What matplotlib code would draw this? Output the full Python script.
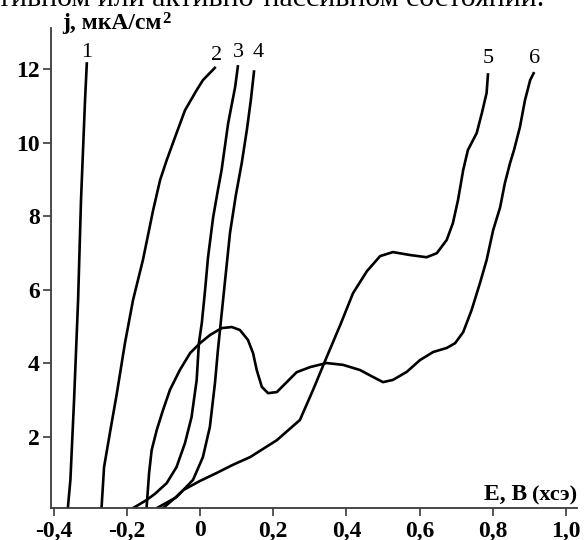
import matplotlib
matplotlib.use("Agg")
import matplotlib.pyplot as plt

# ---- data (E in V vs s.c.e., j in µA/cm²) ----
E1 = [-0.361, -0.354, -0.344, -0.333, -0.325, -0.314, -0.309]
j1 = [0.05, 0.82, 2.99, 5.71, 8.44, 11.16, 12.19]

E2 = [-0.269, -0.262, -0.246, -0.227, -0.205, -0.183, -0.156, -0.128, -0.109,
      -0.091, -0.068, -0.041, -0.009, 0.008, 0.043]
j2 = [0.05, 1.17, 2.10, 3.18, 4.54, 5.71, 6.80, 8.16, 8.98,
      9.52, 10.15, 10.88, 11.43, 11.70, 12.06]

E3 = [-0.183, -0.146, -0.123, -0.091, -0.064, -0.041, -0.023, -0.009, -0.003,
      0.005, 0.014, 0.022, 0.036, 0.049, 0.059, 0.077, 0.096, 0.104]
j3 = [0.05, 0.27, 0.44, 0.73, 1.17, 1.82, 2.53, 3.54, 4.54,
      5.09, 5.99, 6.88, 7.97, 8.71, 9.25, 10.53, 11.51, 12.11]

E4 = [-0.118, -0.064, -0.019, 0.008, 0.027, 0.041, 0.049, 0.063, 0.082,
      0.098, 0.114, 0.128, 0.139, 0.148]
j4 = [0.05, 0.35, 0.82, 1.44, 2.26, 3.46, 4.35, 5.71, 7.54,
      8.57, 9.44, 10.34, 11.16, 11.97]

E5 = [-0.101, -0.068, -0.046, 0.000, 0.046, 0.090, 0.137, 0.210, 0.273,
      0.309, 0.346, 0.383, 0.418, 0.456, 0.492, 0.527, 0.574, 0.619,
      0.647, 0.674, 0.691, 0.705, 0.719, 0.732, 0.756, 0.770, 0.783, 0.787]
j5 = [0.05, 0.33, 0.54, 0.79, 1.01, 1.23, 1.44, 1.90, 2.45,
      3.27, 4.16, 5.03, 5.90, 6.50, 6.91, 7.02, 6.94, 6.88,
      6.99, 7.35, 7.81, 8.44, 9.25, 9.80, 10.26, 10.80, 11.35, 11.89]

E6 = [-0.146, -0.139, -0.132, -0.118, -0.101, -0.082, -0.055, -0.027, 0.000,
      0.027, 0.059, 0.087, 0.109, 0.131, 0.145, 0.155, 0.169, 0.186,
      0.210, 0.237, 0.264, 0.301, 0.346, 0.391, 0.437, 0.473, 0.500,
      0.527, 0.565, 0.601, 0.637, 0.674, 0.697, 0.719, 0.742, 0.765,
      0.783, 0.801, 0.820, 0.833, 0.847, 0.858, 0.874, 0.888, 0.902, 0.913]
j6 = [0.05, 1.01, 1.63, 2.18, 2.72, 3.27, 3.81, 4.27, 4.54,
      4.76, 4.95, 4.98, 4.90, 4.63, 4.27, 3.81, 3.35, 3.18,
      3.21, 3.48, 3.75, 3.89, 4.00, 3.95, 3.81, 3.62, 3.48,
      3.54, 3.76, 4.08, 4.30, 4.41, 4.54, 4.84, 5.44, 6.18,
      6.80, 7.62, 8.24, 8.90, 9.44, 9.80, 10.42, 11.16, 11.70, 11.92]

curve_labels = ["1", "2", "3", "4", "5", "6"]
label_E = [-0.309, 0.046, 0.104, 0.158, 0.787, 0.915]
label_j = [12.46, 12.38, 12.44, 12.44, 12.30, 12.30]

x_ticks = [-0.4, -0.2, 0.0, 0.2, 0.4, 0.6, 0.8, 1.0]
x_ticklabels = ["-0,4", "-0,2", "0", "0,2", "0,4", "0,6", "0,8", "1,0"]
y_ticks = [2, 4, 6, 8, 10, 12]
y_ticklabels = ["2", "4", "6", "8", "10", "12"]

caption = "тивном или активно-пассивном состоянии."
y_label = "j, мкА/см"
y_label_sup = "2"
x_label_main = "E, B"
x_label_unit = "(хсэ)"

# ---- figure ----
serif = ["Liberation Serif", "DejaVu Serif"]
fig = plt.figure(figsize=(5.86, 5.40), dpi=100)
ax = fig.add_axes([51 / 586, 32 / 540, 526 / 586, 480 / 540])

for E, j in [(E1, j1), (E2, j2), (E3, j3), (E4, j4), (E5, j5), (E6, j6)]:
    ax.plot(E, j, color="black", lw=1.9, solid_joinstyle="round", solid_capstyle="butt")

for t, x, y in zip(curve_labels, label_E, label_j):
    ax.text(x, y, t, ha="center", va="center", fontsize=16, family=serif, color="black")

ax.set_xlim(-0.407, 1.030)
ax.set_ylim(0.054, 13.12)

for s in ["top", "right"]:
    ax.spines[s].set_visible(False)
for s in ["left", "bottom"]:
    ax.spines[s].set_color("#3a3a3a")
    ax.spines[s].set_linewidth(1.3)

ax.set_xticks(x_ticks)
ax.set_xticklabels(x_ticklabels)
ax.set_yticks(y_ticks)
ax.set_yticklabels(y_ticklabels)
ax.tick_params(axis="both", direction="out", length=6, width=1.2, color="#3a3a3a",
               labelsize=17)
ax.tick_params(axis="x", pad=3)
ax.tick_params(axis="y", pad=2)
for lab in ax.get_xticklabels() + ax.get_yticklabels():
    lab.set_family(serif)
    lab.set_fontweight("bold")

fig.canvas.draw()
renderer = fig.canvas.get_renderer()

# y-axis label with raised superscript
t_y = fig.text(62 / 586, (540 - 29) / 540, y_label, ha="left", va="baseline",
               fontsize=17, fontweight="bold", family=serif)
bb = t_y.get_window_extent(renderer)
fig.text((bb.x1 + 1) / 586, (540 - 23) / 540, y_label_sup, ha="left",
         va="baseline", fontsize=12, fontweight="bold", family=serif)

# x-axis label: "E, B" bold + "(хсэ)"
t_u = fig.text(577 / 586, (540 - 500) / 540, x_label_unit, ha="right", va="baseline",
               fontsize=16, fontweight="bold", family=serif)
bu = t_u.get_window_extent(renderer)
fig.text((bu.x0 - 5) / 586, (540 - 500) / 540, x_label_main, ha="right", va="baseline",
         fontsize=17, fontweight="bold", family=serif)

fig.text(-2 / 586, (540 - 6) / 540, caption, ha="left", va="baseline",
         fontsize=21.5, family=serif)

fig.savefig("out.png", dpi=100)
